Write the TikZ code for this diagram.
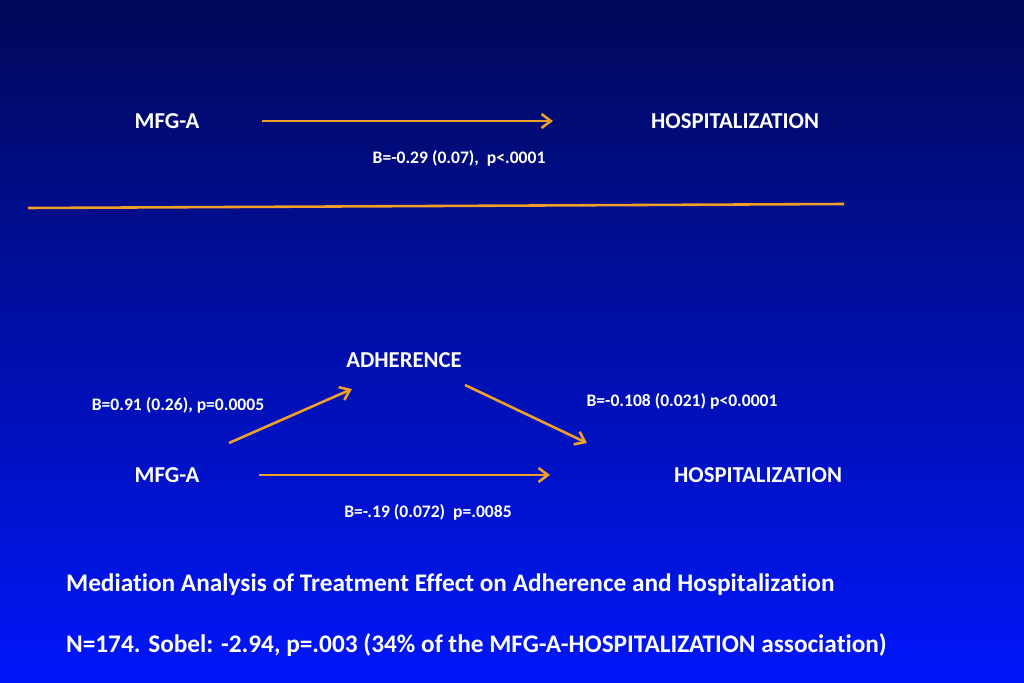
\documentclass[tikz,border=0pt]{standalone}
\usepackage{fontspec}
\setmainfont[Ligatures={NoCommon,NoRare}]{Carlito}
\usetikzlibrary{arrows.meta}
\definecolor{bgtop}{RGB}{0,8,88}
\definecolor{bgbot}{RGB}{0,22,250}
\definecolor{arrowc}{RGB}{240,160,40}
\tikzset{
  varname/.style={text=white, font=\bfseries\fontsize{19.4}{22}\selectfont},
  coeff/.style={text=white, font=\bfseries\fontsize{15}{18}\selectfont},
  caption/.style={text=white, font=\bfseries\fontsize{21.6}{25}\selectfont, anchor=west},
  path/.style={draw=arrowc, line width=2.2pt, -{Straight Barb[length=8pt,width=12pt]}},
}
\begin{document}
\begin{tikzpicture}[x=0.03cm, y=-0.03cm]
\shade[top color=bgtop, bottom color=bgbot] (0,0) rectangle (1024,683);
\useasboundingbox (0,0) rectangle (1024,683);
% total effect
\node[varname] (mfgtop) at (167,121) {MFG-A};
\node[varname] (hosptop) at (735,121) {HOSPITALIZATION};
\coordinate (ctop1) at (262,121);
\coordinate (ctop2) at (553,121);
\draw[path] (ctop1) -- (ctop2);
\node[coeff] (ctop) at (459,158) {B=-0.29 (0.07),\ \ p<.0001};
% separator
\coordinate (sepl) at (28,208);
\coordinate (sepr) at (844,204);
\draw[draw=arrowc, line width=2.2pt] (sepl) -- (sepr);
% mediation model
\node[varname] (adh) at (404,360) {ADHERENCE};
\node[varname] (mfg) at (167,475) {MFG-A};
\node[varname] (hosp) at (758,475) {HOSPITALIZATION};
\coordinate (a1) at (229,443);
\coordinate (a2) at (352,389);
\coordinate (b1) at (465,385);
\coordinate (b2) at (587,443);
\coordinate (c1) at (259,475);
\coordinate (c2) at (550,475);
\draw[path] (a1) -- (a2);
\draw[path] (b1) -- (b2);
\draw[path] (c1) -- (c2);
\node[coeff] (ca) at (178,405) {B=0.91 (0.26), p=0.0005};
\node[coeff] (cb) at (682,401) {B=-0.108 (0.021) p<0.0001};
\node[coeff] (cc) at (428,512) {B=-.19 (0.072)\ \ p=.0085};
% captions
\node[caption] (title) at (62,585) {Mediation Analysis of Treatment Effect on Adherence and Hospitalization};
\node[caption] (sobel) at (62,645) {N=174. Sobel: -2.94, p=.003 (34\% of the MFG-A-HOSPITALIZATION association)};
\end{tikzpicture}
\end{document}
